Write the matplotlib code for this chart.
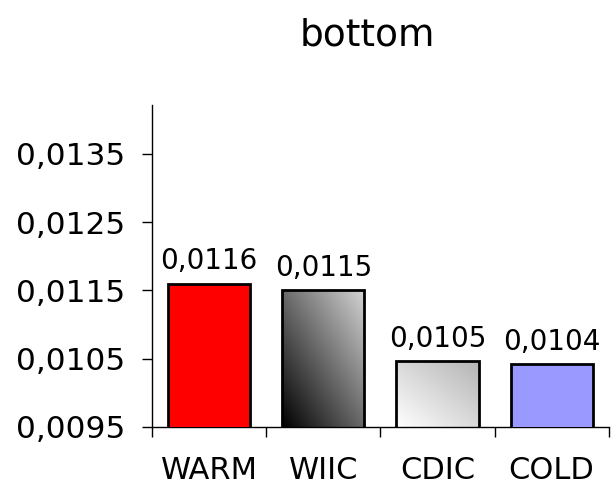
import numpy as np
import matplotlib
matplotlib.use("Agg")
import matplotlib.pyplot as plt
from matplotlib.colors import LinearSegmentedColormap

categories = ["WARM", "WIIC", "CDIC", "COLD"]
values = [0.0116, 0.0115, 0.01046, 0.01042]
y_ticks = [0.0095, 0.0105, 0.0115, 0.0125, 0.0135]
title = "bottom"


def comma(v):
    return ("%.4f" % v).replace(".", ",")


plt.rcParams['font.family'] = ['DejaVu Sans']
fig = plt.figure(figsize=(6.13, 4.9), dpi=100)
ax = fig.add_axes([0.248, 0.1286, 0.745, 0.6574])

x = np.arange(len(categories))
bars = ax.bar(x, values, width=0.72, bottom=0, edgecolor="black", linewidth=2,
              color=["#ff0000", "none", "none", "#9999ff"], zorder=3)

ax.set_xlim(-0.5, len(categories) - 0.5)
ax.set_ylim(0.0095, 0.01422)

# diagonal gradients for the two middle bars
grad_maps = {
    1: LinearSegmentedColormap.from_list("g1", ["#000000", "#d4d4d4"]),
    2: LinearSegmentedColormap.from_list("g2", ["#ffffff", "#b4b4b4"]),
}
gy, gx = np.mgrid[0:1:200j, 0:1:200j]
diag = (gx + gy) / 2.0
for i, cmap in grad_maps.items():
    b = bars[i]
    x0, w = b.get_x(), b.get_width()
    im = ax.imshow(diag, cmap=cmap, origin="lower", aspect="auto",
                   extent=[x0, x0 + w, 0.0095, values[i]], zorder=2)
    im.set_clip_path(b)

for i, v in enumerate(values):
    ax.text(x[i], v + 0.00012, comma(v), ha="center", va="bottom", fontsize=20)

ax.set_yticks(y_ticks)
ax.set_yticklabels([comma(t) for t in y_ticks], fontsize=22.5)
ax.set_xticks(x)
ax.set_xticklabels(categories, fontsize=22)
ax.tick_params(axis="x", length=0, pad=21)
ax.set_xticks(np.arange(-0.5, len(categories)), minor=True)
ax.tick_params(axis="x", which="minor", length=7, direction="out", width=1)
ax.tick_params(axis="y", length=7, width=1, direction="out", pad=12)

for s in ["top", "right"]:
    ax.spines[s].set_visible(False)
ax.spines["left"].set_linewidth(1)
ax.spines["bottom"].set_linewidth(1)

fig.text(0.6, 0.928, title, ha="center", va="center", fontsize=27)

fig.savefig("out.png", dpi=100)
